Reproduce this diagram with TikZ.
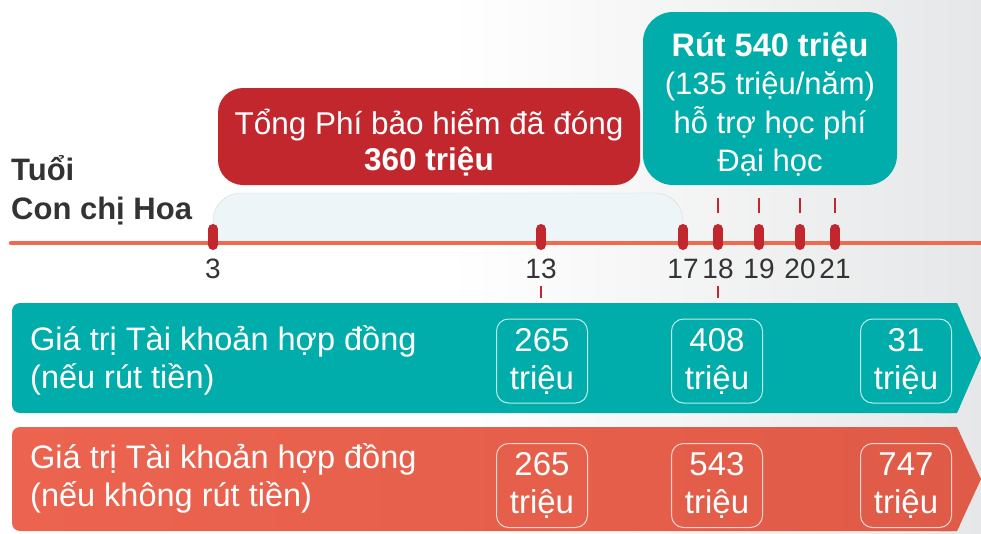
\documentclass[tikz,border=0pt]{standalone}
\usepackage{fontspec}
\setmainfont{Liberation Sans}
\usetikzlibrary{positioning}

\definecolor{tealbox}{HTML}{00ADAA}
\definecolor{feered}{HTML}{C1272D}
\definecolor{coralband}{HTML}{EC6450}
\definecolor{coraldark}{HTML}{E05B47}
\definecolor{axisline}{HTML}{EE6A50}
\definecolor{darktext}{HTML}{333333}
\definecolor{paleblue}{HTML}{EDF5F8}
\definecolor{bggray}{HTML}{E6E7E8}

\tikzset{
	agetick/.style={draw=feered, line width=10pt, line cap=round},
	agemark/.style={draw=feered, line width=2pt},
	agelabel/.style={text=darktext, inner sep=0pt, font=\fontsize{28}{30}\selectfont},
	agetitle/.style={text=darktext, inner sep=0pt, anchor=west, align=left, font=\fontsize{31}{39}\selectfont\bfseries},
	feebox/.style={fill=feered, rounded corners=25pt, minimum width=422pt, minimum height=97pt, inner sep=0pt},
	aidbox/.style={fill=tealbox, rounded corners=30pt, minimum width=254pt, minimum height=173pt, inner sep=0pt},
	boxtext/.style={text=white, inner sep=0pt, align=center},
	valuebox/.style={draw=white, draw opacity=0.75, line width=1pt, rounded corners=12pt, minimum width=91pt, minimum height=84pt, inner sep=0pt, text=white, align=center, font=\fontsize{33}{38}\selectfont},
	bandlabel/.style={text=white, inner sep=0pt, anchor=west, align=left, font=\fontsize{32.5}{38}\selectfont}
}

\begin{document}
\begin{tikzpicture}[x=1pt,y=-1pt]
	\useasboundingbox (0,0) rectangle (981,533);
	\clip (0,0) rectangle (981,533);
	\fill[white] (0,0) rectangle (450,533);
	\shade[left color=white, right color=bggray] (450,0) rectangle (981,533);

	% bands
	\fill[tealbox, rounded corners=8pt] (12,303) rectangle (960,413);
	\fill[tealbox] (940,303) -- (957,303) -- (981,358) -- (957,413) -- (940,413) -- cycle;
	\shade[left color=coralband, right color=coraldark, rounded corners=8pt] (12,427) rectangle (960,531);
	\fill[coraldark] (940,427) -- (957,427) -- (981,479) -- (957,531) -- (940,531) -- cycle;

	% paid period
	\draw[fill=paleblue, draw=black!15, rounded corners=28pt] (213,243) -- (213,193) -- (683,193) -- (683,243);

	% timeline
	\coordinate (axisstart) at (11,243);
	\coordinate (axisend) at (990,243);
	\draw[axisline, line width=4.5pt, line cap=round] (axisstart) -- (axisend);

	\foreach \age/\x in {3/213,13/541,17/683,18/718,19/759,20/800,21/835}{
		\draw[agetick] (\x,229) -- (\x,245);
		\node[agelabel] (age\age) at (\x,268.5) {\age};
	}
	\foreach \x in {718,759,800,835}
		\draw[agemark] (\x,198) -- (\x,213);
	\foreach \x in {541,718}
		\draw[agemark] (\x,286) -- (\x,298);

	\node[agetitle] (title) at (11,190) {Tuổi\\Con chị Hoa};

	\node[feebox] (fee) at (429,136.5) {};
	\node[boxtext, font=\fontsize{31.5}{36}\selectfont] (feetext) at (429,143)
		{Tổng Phí bảo hiểm đã đóng\\\textbf{360 triệu}};
	\node[aidbox] (aid) at (770,98.5) {};
	\node[boxtext, font=\fontsize{31}{38.5}\selectfont] (aidtext) at (770,104)
		{{\fontsize{32.5}{38.5}\selectfont\textbf{Rút 540 triệu}}\\(135 triệu/năm)\\hỗ trợ học phí\\Đại học};

	% account values
	\node[bandlabel] (withdrawlabel) at (30,360) {Giá trị Tài khoản hợp đồng\\(nếu rút tiền)};
	\node[bandlabel] (keeplabel) at (30,478) {Giá trị Tài khoản hợp đồng\\(nếu không rút tiền)};

	\foreach \name/\x/\withdraw/\keep in {a/542/265/265,b/717/408/543,c/906/31/747}{
		\node[valuebox] (withdraw\name) at (\x,361) {\withdraw\\triệu};
		\node[valuebox] (keep\name) at (\x,485.5) {\keep\\triệu};
	}
\end{tikzpicture}
\end{document}
